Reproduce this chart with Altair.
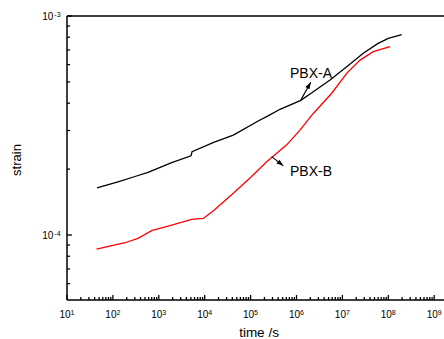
import math
import altair as alt
import pandas as pd

# Creep strain vs. time for the two PBX formulations
time_a = [45, 129, 303, 582, 1910, 5040, 5300, 15200, 42000, 160000, 224000,
          438000, 1.24e6, 2.32e6, 5.37e6, 1.24e7, 2.85e7, 6.0e7, 1.0e8, 1.96e8]
strain_a = [1.64e-4, 1.75e-4, 1.85e-4, 1.93e-4, 2.14e-4, 2.30e-4, 2.40e-4, 2.64e-4,
            2.86e-4, 3.35e-4, 3.47e-4, 3.75e-4, 4.12e-4, 4.51e-4, 5.10e-4, 5.86e-4,
            6.76e-4, 7.50e-4, 7.90e-4, 8.22e-4]

time_b = [44, 184, 352, 700, 1910, 5210, 9330, 16200, 42000, 97000, 224000,
          611000, 1.19e6, 2.32e6, 5.85e6, 1.24e7, 2.42e7, 4.71e7, 1.09e8]
strain_b = [8.63e-5, 9.22e-5, 9.66e-5, 1.047e-4, 1.111e-4, 1.18e-4, 1.19e-4, 1.30e-4,
            1.55e-4, 1.82e-4, 2.16e-4, 2.58e-4, 3.01e-4, 3.59e-4, 4.44e-4, 5.47e-4,
            6.29e-4, 6.87e-4, 7.24e-4]

# Axis decades
x_exponents = [1, 2, 3, 4, 5, 6, 7, 8, 9]
y_exponents = [-3, -4]

# Curve annotations
label_names = ["PBX-A", "PBX-B"]
label_time = [7.2e5, 7.2e5]
label_strain = [5.21e-4, 1.86e-4]
arrow_tail_time = [1.24e6, 2.88e5]
arrow_tail_strain = [4.13e-4, 2.28e-4]
arrow_head_time = [2.04e6, 5.15e5]
arrow_head_strain = [4.98e-4, 2.07e-4]

W, H = 377, 284
X_DOMAIN = [10, 1.635e9]
Y_DOMAIN = [5.05e-5, 1e-3]
FONT = "Liberation Sans"

xs = alt.Scale(type="log", domain=X_DOMAIN, nice=False)
ys = alt.Scale(type="log", domain=Y_DOMAIN, nice=False)

curves = pd.concat([
    pd.DataFrame({"t": time_a, "s": strain_a, "series": "PBX-A"}),
    pd.DataFrame({"t": time_b, "s": strain_b, "series": "PBX-B"}),
])

lines = alt.Chart(curves).mark_line(strokeWidth=1.3, clip=True).encode(
    x=alt.X("t:Q", scale=xs, axis=None),
    y=alt.Y("s:Q", scale=ys, axis=None),
    color=alt.Color("series:N", legend=None,
                    scale=alt.Scale(domain=["PBX-A", "PBX-B"],
                                    range=["#000000", "#ff0000"])),
    detail="series:N",
)

# Frame: left axis, bottom axis and top edge
frame_df = pd.DataFrame({"a": [0]})
left_line = alt.Chart(frame_df).mark_rule(color="black", strokeWidth=1.5).encode(
    x=alt.value(0), y=alt.value(0), y2=alt.value(H))
bottom_line = alt.Chart(frame_df).mark_rule(color="black", strokeWidth=1.5).encode(
    x=alt.value(0), x2=alt.value(W), y=alt.value(H))
top_line = alt.Chart(frame_df).mark_rule(color="black", strokeWidth=1.5).encode(
    x=alt.value(0), x2=alt.value(W), y=alt.value(0))

# Inward tick marks
x_major = pd.DataFrame({"v": [10.0 ** k for k in x_exponents]})
x_minor = pd.DataFrame({"v": [m * 10.0 ** k for k in x_exponents[:-1] for m in range(2, 10)]})
y_major = pd.DataFrame({"v": [10.0 ** k for k in y_exponents]})
y_minor = pd.DataFrame({"v": [m * 1e-5 for m in range(6, 10)] + [m * 1e-4 for m in range(2, 10)]})


def xticks(df, length):
    return alt.Chart(df).mark_rule(color="black", strokeWidth=1.3).encode(
        x=alt.X("v:Q", scale=xs, axis=None),
        y=alt.value(H), y2=alt.value(H - length))


def yticks(df, length):
    return alt.Chart(df).mark_rule(color="black", strokeWidth=1.3).encode(
        y=alt.Y("v:Q", scale=ys, axis=None),
        x=alt.value(0), x2=alt.value(length))


# Tick labels as base "10" plus a raised exponent
x_lab = pd.DataFrame({"v": [10.0 ** k for k in x_exponents], "e": [str(k) for k in x_exponents]})
y_lab = pd.DataFrame({"v": [10.0 ** k for k in y_exponents], "e": [str(k) for k in y_exponents]})

x_base = alt.Chart(x_lab).mark_text(text="10", font=FONT, fontSize=10, align="center",
                                     baseline="alphabetic", dx=-2, color="black").encode(
    x=alt.X("v:Q", scale=xs, axis=None), y=alt.value(H + 18.3))
x_exp = alt.Chart(x_lab).mark_text(font=FONT, fontSize=7, align="left",
                                    baseline="alphabetic", dx=3.5, color="black").encode(
    x=alt.X("v:Q", scale=xs, axis=None), y=alt.value(H + 15), text="e:N")

y_base = alt.Chart(y_lab).mark_text(text="10", font=FONT, fontSize=10, align="right",
                                     baseline="middle", dy=1, color="black").encode(
    y=alt.Y("v:Q", scale=ys, axis=None), x=alt.value(-13.7))
y_exp = alt.Chart(y_lab).mark_text(font=FONT, fontSize=7, align="left",
                                    baseline="alphabetic", dy=0.5, color="black").encode(
    y=alt.Y("v:Q", scale=ys, axis=None), x=alt.value(-12.7), text="e:N")

y_title = alt.Chart(pd.DataFrame({"t": ["strain"]})).mark_text(
    font=FONT, fontSize=13, angle=270, align="center", baseline="middle", color="black").encode(
    x=alt.value(-50.3), y=alt.value(144), text="t:N")
x_title = alt.Chart(pd.DataFrame({"t": ["time /s"]})).mark_text(
    font=FONT, fontSize=13.5, align="center", baseline="alphabetic", color="black").encode(
    x=alt.value(192), y=alt.value(320.5), text="t:N")

# Annotation labels and arrows
labels = alt.Chart(pd.DataFrame({"t": label_time, "s": label_strain, "name": label_names})).mark_text(
    font=FONT, fontSize=14, align="left", baseline="alphabetic", color="black").encode(
    x=alt.X("t:Q", scale=xs, axis=None), y=alt.Y("s:Q", scale=ys, axis=None), text="name:N")

kx = W / math.log10(X_DOMAIN[1] / X_DOMAIN[0])
ky = H / math.log10(Y_DOMAIN[1] / Y_DOMAIN[0])
angles = []
for tt, ts, ht, hs in zip(arrow_tail_time, arrow_tail_strain, arrow_head_time, arrow_head_strain):
    dx = math.log10(ht / tt) * kx
    dy = math.log10(hs / ts) * ky
    angles.append(math.degrees(math.atan2(dx, dy)) % 360)

arrows_df = pd.DataFrame({"t": arrow_tail_time, "s": arrow_tail_strain,
                          "t2": arrow_head_time, "s2": arrow_head_strain, "angle": angles})

shafts = alt.Chart(arrows_df).mark_rule(color="black", strokeWidth=1.1).encode(
    x=alt.X("t:Q", scale=xs, axis=None), y=alt.Y("s:Q", scale=ys, axis=None),
    x2="t2:Q", y2="s2:Q")
heads = alt.Chart(arrows_df).mark_point(
    shape="M0,0L0.36,1L-0.36,1Z", filled=True, color="black", size=180, opacity=1).encode(
    x=alt.X("t2:Q", scale=xs, axis=None), y=alt.Y("s2:Q", scale=ys, axis=None),
    angle=alt.Angle("angle:Q", scale=None))

chart = alt.layer(
    lines, left_line, bottom_line, top_line,
    xticks(x_major, 5), xticks(x_minor, 3), yticks(y_major, 5), yticks(y_minor, 3),
    x_base, x_exp, y_base, y_exp, y_title, x_title,
    shafts, heads, labels,
).properties(
    width=W, height=H,
    autosize="none",
    padding={"left": 67, "top": 16, "right": 0, "bottom": 39},
    background="white",
).configure_view(stroke=None)

chart.save("out.html", embed_options={"renderer": "svg", "actions": False})
